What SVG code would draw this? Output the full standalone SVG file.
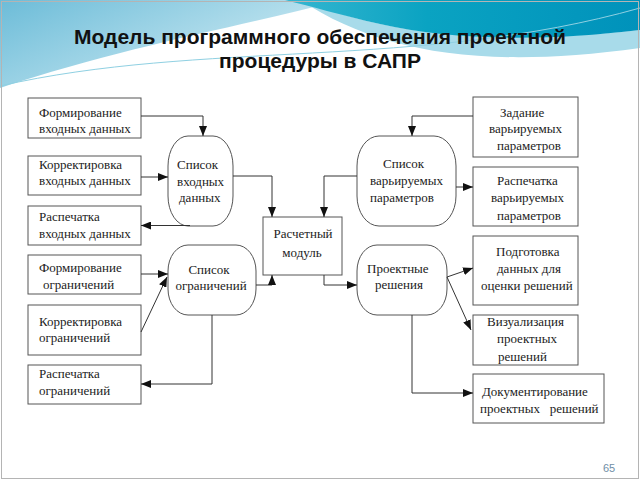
<svg xmlns="http://www.w3.org/2000/svg" width="640" height="480" viewBox="0 0 640 480">
  <defs>
    <linearGradient id="gLeft" x1="0" y1="0" x2="1" y2="0.6">
      <stop offset="0" stop-color="#6cbcd8"/>
      <stop offset="1" stop-color="#d3edf5"/>
    </linearGradient>
    <linearGradient id="gTeal" x1="0" y1="0" x2="1" y2="0">
      <stop offset="0" stop-color="#36b6d0"/>
      <stop offset="0.4" stop-color="#0aa3c2"/>
      <stop offset="1" stop-color="#0092bb"/>
    </linearGradient>
    <marker id="ah" markerUnits="userSpaceOnUse" markerWidth="10" markerHeight="8" refX="10" refY="4" orient="auto">
      <path d="M0,0 L10,4 L0,8 Z" fill="#111"/>
    </marker>
    <style>
      .box { fill: #ffffff; stroke: #555; stroke-width: 1; }
      .t { font-family: "Liberation Serif", "Times New Roman", serif; font-size: 13px; fill: #222; }
      .c { text-anchor: middle; }
      .title { font-family: "Liberation Sans", Arial, sans-serif; font-size: 21px; font-weight: bold; fill: #111; text-anchor: middle; }
      .conn path { fill: none; stroke: #333; stroke-width: 1; marker-end: url(#ah); }
    </style>
  </defs>

  <rect x="0" y="0" width="640" height="480" fill="#ffffff"/>
  <!-- background waves -->
  <path d="M0,0 H340 C250,25 130,45 0,88 Z" fill="url(#gLeft)"/>
  <path d="M300,0 C380,30 470,48 640,30 V48 C480,70 380,52 300,0 Z" fill="#a8dbea"/>
  <path d="M285,0 H640 V30 C540,42 450,40 380,24 C340,15 310,6 285,0 Z" fill="url(#gTeal)"/>
  <path d="M0,86 C200,40 420,70 640,8" fill="none" stroke="#8fd0e2" stroke-width="1"/>
  <rect x="1.5" y="1.5" width="637" height="477" fill="none" stroke="#b4b4b4" stroke-width="1"/>

  <text class="title" x="320" y="44">Модель программного обеспечения проектной</text>
  <text class="title" x="320" y="68">процедуры в САПР</text>

  <!-- left boxes -->
  <g id="form-in">
    <rect class="box" x="28" y="98" width="113" height="40"/>
    <text class="t" x="39" y="117">Формирование</text>
    <text class="t" x="39" y="133">входных данных</text>
  </g>
  <g id="korr-in">
    <rect class="box" x="28" y="156" width="113" height="39"/>
    <text class="t" x="39" y="169">Корректировка</text>
    <text class="t" x="39" y="185">входных данных</text>
  </g>
  <g id="print-in">
    <rect class="box" x="28" y="206" width="113" height="39"/>
    <text class="t" x="39" y="221">Распечатка</text>
    <text class="t" x="39" y="238">входных данных</text>
  </g>
  <g id="form-lim">
    <rect class="box" x="28" y="255" width="113" height="39"/>
    <text class="t" x="39" y="272">Формирование</text>
    <text class="t" x="43" y="289">ограничений</text>
  </g>
  <g id="korr-lim">
    <rect class="box" x="28" y="305" width="113" height="50"/>
    <text class="t" x="39" y="326">Корректировка</text>
    <text class="t" x="39" y="342">ограничений</text>
  </g>
  <g id="print-lim">
    <rect class="box" x="28" y="365" width="113" height="39"/>
    <text class="t" x="39" y="378">Распечатка</text>
    <text class="t" x="39" y="395">ограничений</text>
  </g>

  <!-- rounded lists -->
  <g id="list-in">
    <rect class="box" x="168" y="136" width="65" height="90" rx="20" ry="30"/>
    <text class="t" x="177" y="169">Список</text>
    <text class="t" x="177" y="186">входных</text>
    <text class="t" x="179" y="202">данных</text>
  </g>
  <g id="list-lim">
    <rect class="box" x="168" y="245" width="88" height="70" rx="20" ry="26"/>
    <text class="t c" x="209" y="274">Список</text>
    <text class="t c" x="211" y="290">ограничений</text>
  </g>
  <g id="calc">
    <rect class="box" x="263" y="217" width="79" height="58"/>
    <text class="t c" x="303" y="238">Расчетный</text>
    <text class="t c" x="302" y="257">модуль</text>
  </g>
  <g id="list-var">
    <rect class="box" x="357" y="136" width="99" height="90" rx="22" ry="30"/>
    <text class="t" x="383" y="168">Список</text>
    <text class="t" x="370" y="185">варьируемых</text>
    <text class="t" x="370" y="202">параметров</text>
  </g>
  <g id="proj">
    <rect class="box" x="357" y="245" width="90" height="70" rx="20" ry="26"/>
    <text class="t" x="367" y="273">Проектные</text>
    <text class="t" x="375" y="289">решения</text>
  </g>

  <!-- right boxes -->
  <g id="set-var">
    <rect class="box" x="473" y="97" width="105" height="60"/>
    <text class="t" x="500" y="117">Задание</text>
    <text class="t" x="489" y="133">варьируемых</text>
    <text class="t" x="497" y="150">параметров</text>
  </g>
  <g id="print-var">
    <rect class="box" x="473" y="167" width="105" height="59"/>
    <text class="t" x="497" y="185">Распечатка</text>
    <text class="t" x="491" y="202">варьируемых</text>
    <text class="t" x="497" y="220">параметров</text>
  </g>
  <g id="prep">
    <rect class="box" x="473" y="236" width="105" height="69"/>
    <text class="t" x="496" y="256">Подготовка</text>
    <text class="t" x="497" y="273">данных для</text>
    <text class="t" x="481" y="290">оценки решений</text>
  </g>
  <g id="vis">
    <rect class="box" x="473" y="315" width="105" height="50"/>
    <text class="t" x="487" y="326">Визуализация</text>
    <text class="t" x="497" y="343">проектных</text>
    <text class="t" x="498" y="361">решений</text>
  </g>
  <g id="doc">
    <rect class="box" x="473" y="374" width="131" height="49"/>
    <text class="t" x="482" y="396">Документирование</text>
    <text class="t" x="480" y="413" xml:space="preserve">проектных   решений</text>
  </g>

  <!-- connectors -->
  <g id="connectors" class="conn">
    <path d="M141,116 H203 V136"/>
    <path d="M141,177 H168"/>
    <path d="M190,225.5 H141"/>
    <path d="M233,176 H272 V217"/>
    <path d="M357,176 H324 V217"/>
    <path d="M256,285 H272 V275"/>
    <path d="M324,275 V285 H357"/>
    <path d="M141,274 H168"/>
    <path d="M141,332 L167,277"/>
    <path d="M212,315 V384 H141"/>
    <path d="M473,116 H412 V136"/>
    <path d="M456,187 H473"/>
    <path d="M447,277 L473,268"/>
    <path d="M447,277 L471,330"/>
    <path d="M412,315 V393 H473"/>
  </g>

  <text x="603" y="472" font-family="Liberation Sans, Arial, sans-serif" font-size="11" fill="#6f8ea6">65</text>
</svg>
